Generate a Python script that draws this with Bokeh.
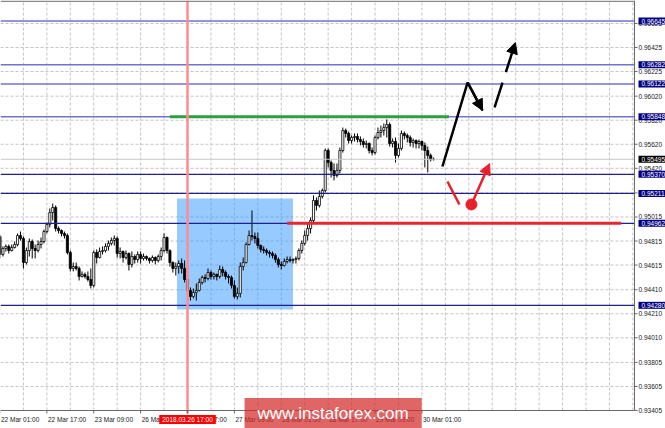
from bokeh.plotting import figure
from bokeh.models import Label, Arrow, NormalHead, Range1d, ColumnDataSource
from bokeh.core.properties import value
from bokeh.embed import file_html
from bokeh.resources import INLINE

# ---------------- data (H1 quotes) ----------------
bar = list(range(149))
open_ = [0.94853, 0.94703, 0.94753, 0.94770, 0.94736, 0.94761, 0.94786, 0.94861, 0.94836, 0.94636,
         0.94736, 0.94811, 0.94753, 0.94736, 0.94786, 0.94811, 0.94894, 0.94953, 0.95052, 0.95094,
         0.94919, 0.94903, 0.94878, 0.94861, 0.94720, 0.94587, 0.94603, 0.94587, 0.94520, 0.94537,
         0.94520, 0.94495, 0.94445, 0.94720, 0.94678, 0.94728, 0.94736, 0.94770, 0.94795, 0.94819,
         0.94836, 0.94711, 0.94728, 0.94678, 0.94711, 0.94620, 0.94686, 0.94661, 0.94703, 0.94670,
         0.94686, 0.94670, 0.94653, 0.94678, 0.94653, 0.94686, 0.94736, 0.94844, 0.94736, 0.94636,
         0.94587, 0.94603, 0.94628, 0.94587, 0.94495, 0.94404, 0.94354, 0.94387, 0.94404, 0.94470,
         0.94512, 0.94503, 0.94553, 0.94520, 0.94537, 0.94520, 0.94578, 0.94553, 0.94520, 0.94512,
         0.94445, 0.94354, 0.94379, 0.94603, 0.94636, 0.94786, 0.94861, 0.94853, 0.94836, 0.94778,
         0.94745, 0.94736, 0.94720, 0.94711, 0.94695, 0.94661, 0.94620, 0.94611, 0.94645, 0.94661,
         0.94653, 0.94661, 0.94670, 0.94736, 0.94795, 0.94861, 0.94919, 0.94986, 0.95152, 0.95111,
         0.95185, 0.95235, 0.95568, 0.95468, 0.95402, 0.95360, 0.95402, 0.95568, 0.95734, 0.95710,
         0.95651, 0.95676, 0.95685, 0.95660, 0.95643, 0.95618, 0.95626, 0.95568, 0.95551, 0.95676,
         0.95718, 0.95734, 0.95759, 0.95784, 0.95626, 0.95643, 0.95527, 0.95585, 0.95710, 0.95693,
         0.95676, 0.95635, 0.95651, 0.95626, 0.95643, 0.95610, 0.95568, 0.95527, 0.95493]
close = [0.94703, 0.94753, 0.94770, 0.94736, 0.94761, 0.94786, 0.94861, 0.94836, 0.94636, 0.94736,
         0.94811, 0.94753, 0.94736, 0.94786, 0.94811, 0.94894, 0.94953, 0.95052, 0.95094, 0.94919,
         0.94903, 0.94878, 0.94861, 0.94720, 0.94587, 0.94603, 0.94587, 0.94520, 0.94537, 0.94520,
         0.94495, 0.94445, 0.94720, 0.94678, 0.94728, 0.94736, 0.94770, 0.94795, 0.94819, 0.94836,
         0.94711, 0.94728, 0.94678, 0.94711, 0.94620, 0.94686, 0.94661, 0.94703, 0.94670, 0.94686,
         0.94670, 0.94653, 0.94678, 0.94653, 0.94686, 0.94736, 0.94844, 0.94736, 0.94636, 0.94587,
         0.94603, 0.94628, 0.94587, 0.94495, 0.94404, 0.94354, 0.94387, 0.94404, 0.94470, 0.94512,
         0.94503, 0.94553, 0.94520, 0.94537, 0.94520, 0.94578, 0.94553, 0.94520, 0.94512, 0.94445,
         0.94354, 0.94379, 0.94603, 0.94636, 0.94786, 0.94861, 0.94853, 0.94836, 0.94778, 0.94745,
         0.94736, 0.94720, 0.94711, 0.94695, 0.94661, 0.94620, 0.94611, 0.94645, 0.94661, 0.94653,
         0.94661, 0.94670, 0.94736, 0.94795, 0.94861, 0.94919, 0.94986, 0.95152, 0.95111, 0.95185,
         0.95235, 0.95568, 0.95468, 0.95402, 0.95360, 0.95402, 0.95568, 0.95734, 0.95710, 0.95651,
         0.95676, 0.95685, 0.95660, 0.95643, 0.95618, 0.95626, 0.95568, 0.95551, 0.95676, 0.95718,
         0.95734, 0.95759, 0.95784, 0.95626, 0.95643, 0.95527, 0.95585, 0.95710, 0.95693, 0.95676,
         0.95635, 0.95651, 0.95626, 0.95643, 0.95610, 0.95568, 0.95527, 0.95493, 0.95495]
high = [0.94869, 0.94770, 0.94786, 0.94786, 0.94786, 0.94811, 0.94878, 0.94894, 0.94853, 0.94761,
        0.94836, 0.94828, 0.94786, 0.94819, 0.94844, 0.94911, 0.94969, 0.95086, 0.95127, 0.95111,
        0.94936, 0.94911, 0.94894, 0.94878, 0.94736, 0.94636, 0.94636, 0.94603, 0.94562, 0.94553,
        0.94562, 0.94587, 0.94736, 0.94745, 0.94761, 0.94770, 0.94795, 0.94819, 0.94844, 0.94861,
        0.94853, 0.94761, 0.94736, 0.94736, 0.94720, 0.94728, 0.94703, 0.94728, 0.94728, 0.94711,
        0.94695, 0.94678, 0.94695, 0.94686, 0.94703, 0.94761, 0.94878, 0.94853, 0.94745, 0.94645,
        0.94636, 0.94653, 0.94670, 0.94653, 0.94553, 0.94428, 0.94420, 0.94462, 0.94503, 0.94528,
        0.94537, 0.94587, 0.94570, 0.94553, 0.94545, 0.94611, 0.94603, 0.94570, 0.94537, 0.94528,
        0.94487, 0.94428, 0.94636, 0.94678, 0.94803, 0.94903, 0.95069, 0.94886, 0.94886, 0.94786,
        0.94770, 0.94753, 0.94736, 0.94728, 0.94711, 0.94678, 0.94645, 0.94670, 0.94686, 0.94686,
        0.94670, 0.94686, 0.94753, 0.94819, 0.94903, 0.94961, 0.95011, 0.95194, 0.95177, 0.95235,
        0.95252, 0.95585, 0.95585, 0.95485, 0.95460, 0.95460, 0.95593, 0.95759, 0.95751, 0.95726,
        0.95693, 0.95710, 0.95710, 0.95685, 0.95668, 0.95651, 0.95635, 0.95593, 0.95693, 0.95759,
        0.95776, 0.95793, 0.95826, 0.95801, 0.95668, 0.95676, 0.95626, 0.95734, 0.95726, 0.95710,
        0.95693, 0.95668, 0.95660, 0.95660, 0.95651, 0.95635, 0.95601, 0.95543, 0.95510]
low = [0.94670, 0.94686, 0.94728, 0.94711, 0.94728, 0.94753, 0.94770, 0.94819, 0.94587, 0.94620,
       0.94686, 0.94670, 0.94670, 0.94720, 0.94753, 0.94795, 0.94878, 0.94928, 0.94986, 0.94894,
       0.94878, 0.94853, 0.94836, 0.94703, 0.94562, 0.94562, 0.94570, 0.94487, 0.94512, 0.94503,
       0.94478, 0.94420, 0.94428, 0.94628, 0.94670, 0.94703, 0.94720, 0.94736, 0.94778, 0.94778,
       0.94678, 0.94670, 0.94636, 0.94661, 0.94570, 0.94595, 0.94628, 0.94636, 0.94628, 0.94653,
       0.94653, 0.94628, 0.94636, 0.94620, 0.94636, 0.94653, 0.94720, 0.94711, 0.94603, 0.94553,
       0.94528, 0.94545, 0.94545, 0.94470, 0.94395, 0.94320, 0.94337, 0.94320, 0.94395, 0.94453,
       0.94470, 0.94487, 0.94495, 0.94495, 0.94487, 0.94503, 0.94520, 0.94495, 0.94462, 0.94420,
       0.94337, 0.94329, 0.94345, 0.94570, 0.94628, 0.94778, 0.94819, 0.94795, 0.94753, 0.94720,
       0.94711, 0.94695, 0.94678, 0.94670, 0.94636, 0.94595, 0.94578, 0.94603, 0.94628, 0.94636,
       0.94628, 0.94628, 0.94653, 0.94711, 0.94778, 0.94819, 0.94878, 0.94969, 0.95069, 0.95094,
       0.95169, 0.95219, 0.95427, 0.95343, 0.95319, 0.95343, 0.95377, 0.95551, 0.95676, 0.95626,
       0.95626, 0.95643, 0.95635, 0.95610, 0.95593, 0.95585, 0.95543, 0.95527, 0.95535, 0.95660,
       0.95676, 0.95693, 0.95676, 0.95601, 0.95593, 0.95468, 0.95510, 0.95568, 0.95660, 0.95635,
       0.95601, 0.95593, 0.95585, 0.95585, 0.95568, 0.95427, 0.95385, 0.95477, 0.95485]

x_tick_bars = [0, 16, 32, 48, 64, 80, 96, 112, 128, 144]
x_tick_labels = ["22 Mar 01:00", "22 Mar 17:00", "23 Mar 09:00", "26 Mar 01:00", "26 Mar 17:00",
                 "27 Mar 09:00", "28 Mar 01:00", "28 Mar 17:00", "29 Mar 09:00", "30 Mar 01:00"]
x_grid_bars = [8, 16, 24, 32, 40, 48, 56, 64, 72, 80, 88, 96, 104, 112, 120, 128, 136, 144,
               152, 160, 168, 176, 184, 192, 200, 208, 216]
y_ticks = [0.93405, 0.93605, 0.93805, 0.94010, 0.94210, 0.94410, 0.94615, 0.94815, 0.95015,
           0.95215, 0.95420, 0.95620, 0.95820, 0.96020, 0.96225, 0.96425, 0.96625]
y_tick_labels = ["0.93405", "0.93605", "0.93805", "0.94010", "0.94210", "0.94410", "0.94615",
                 "0.94815", "0.95015", "0.95215", "0.95420", "0.95620", "0.95820", "0.96020",
                 "0.96225", "0.96425", "0.96625"]

upper_levels = [0.96645, 0.96282, 0.96122, 0.95848]
lower_levels = [0.95370, 0.95211, 0.94962, 0.94280]
current_price = 0.95495

green_x = [58.0, 153.2]
green_y = 0.95848
red_x = [98.0, 212.0]
red_y = 0.94962
zone_left, zone_right, zone_top, zone_bottom = 60.4, 100.0, 0.95169, 0.94245
marker_bar = 64
marker_text = "2018.03.26 17:00"

black_path_x = [151.0, 159.6, 164.7]
black_path_y = [0.95435, 0.96134, 0.95901]
black_dash_x = [168.8, 175.9]
black_dash_y = [0.95926, 0.96467]
red_path_x = [152.7, 156.8]
red_path_y = [0.95310, 0.95119]
red_dot_x, red_dot_y = 160.9, 0.95119
red_arrow_end_x, red_arrow_end_y = 167.1, 0.95460

# ---------------- scale set-up (pixels of the 665x428 canvas) ----------------
FONT = "Liberation Sans"
PX_BAR = 2.93            # pixels per hourly bar
PX_PRICE = 12020.0       # pixels per price unit
W, H = 665, 428
CHART_W, CHART_H = 634, 410
X0 = 0.5 / PX_BAR
X1 = X0 + W / PX_BAR
X_EDGE = X0 + CHART_W / PX_BAR
P_TOP = 0.96816
P_BOTTOM = P_TOP - H / PX_PRICE
P_EDGE = P_TOP - CHART_H / PX_PRICE

p = figure(width=W, height=H, min_border=0, x_axis_location=None, y_axis_location=None,
           x_range=Range1d(X0, X1), y_range=Range1d(P_BOTTOM, P_TOP),
           output_backend="svg", toolbar_location=None)
p.outline_line_color = None
p.xgrid.visible = False
p.ygrid.visible = False
p.background_fill_color = "white"
p.border_fill_color = "white"

# grid
p.segment(x0=x_grid_bars, x1=x_grid_bars, y0=[P_EDGE] * len(x_grid_bars),
          y1=[P_TOP] * len(x_grid_bars), line_color="#c4c4c4", line_dash="3 2", line_width=1)
p.segment(x0=[X0] * len(y_ticks), x1=[X_EDGE] * len(y_ticks), y0=y_ticks, y1=y_ticks,
          line_color="#c4c4c4", line_dash="3 2", line_width=1)

# zone rectangle
p.quad(left=[zone_left], right=[zone_right], top=[zone_top], bottom=[zone_bottom],
       fill_color="#2f95ff", fill_alpha=0.5, line_color=None)

# candles
up = dict(x=[], top=[], bottom=[])
dn = dict(x=[], top=[], bottom=[])
for b, o, c in zip(bar, open_, close):
    d = up if c >= o else dn
    d["x"].append(b)
    d["top"].append(max(o, c))
    d["bottom"].append(min(o, c))
p.segment(x0=bar, y0=high, x1=bar, y1=low, line_color="black", line_width=1)
p.vbar(x="x", top="top", bottom="bottom", width=0.72, source=ColumnDataSource(up),
       fill_color="white", line_color="black", line_width=0.8)
p.vbar(x="x", top="top", bottom="bottom", width=0.72, source=ColumnDataSource(dn),
       fill_color="black", line_color="black", line_width=0.8)

# horizontal levels
p.segment(x0=[X0], x1=[X_EDGE], y0=[current_price], y1=[current_price],
          line_color="#c8c8c8", line_width=1)
p.segment(x0=[X0] * 4, x1=[X_EDGE] * 4, y0=upper_levels, y1=upper_levels,
          line_color="#7272d2", line_width=1.5)
p.segment(x0=[X0] * 4, x1=[X_EDGE] * 4, y0=lower_levels, y1=lower_levels,
          line_color="#1f1f8f", line_width=1.2)
p.segment(x0=[green_x[0]], y0=[green_y], x1=[green_x[1]], y1=[green_y],
          line_color="#2e9e40", line_width=3)
p.segment(x0=[red_x[0]], y0=[red_y], x1=[red_x[1]], y1=[red_y],
          line_color="#e8262e", line_width=3)

# time marker line
p.segment(x0=[marker_bar], x1=[marker_bar], y0=[P_EDGE - 3 / PX_PRICE], y1=[P_TOP],
          line_color="#ff8c8c", line_width=2.5)

# frame lines (axes)
p.segment(x0=[X_EDGE], x1=[X_EDGE], y0=[P_EDGE], y1=[P_TOP], line_color="#6a6a6a", line_width=1)
p.segment(x0=[X0], x1=[X_EDGE], y0=[P_EDGE], y1=[P_EDGE], line_color="#6a6a6a", line_width=1)
p.segment(x0=[X0], x1=[X_EDGE], y0=[P_TOP - 0.8 / PX_PRICE], y1=[P_TOP - 0.8 / PX_PRICE],
          line_color="#8a8a8a", line_width=1.6)

# y ticks + labels (right side)
p.segment(x0=[X_EDGE] * len(y_ticks), x1=[X_EDGE + 3 / PX_BAR] * len(y_ticks),
          y0=y_ticks, y1=y_ticks, line_color="#6a6a6a", line_width=1)
p.text(x=[X_EDGE] * len(y_ticks), y=y_ticks, text=y_tick_labels, x_offset=4,
       text_font=value(FONT), text_font_size=value("6.5px"), text_color="#202020",
       text_align="left", text_baseline="middle")

# x ticks + labels (bottom)
p.segment(x0=x_tick_bars, x1=x_tick_bars, y0=[P_EDGE] * len(x_tick_bars),
          y1=[P_EDGE - 3 / PX_PRICE] * len(x_tick_bars), line_color="#6a6a6a", line_width=1)
p.text(x=x_tick_bars, y=[P_EDGE - 9 / PX_PRICE] * len(x_tick_bars), text=x_tick_labels,
       x_offset=1, text_font=value(FONT), text_font_size=value("6.5px"), text_color="#202020",
       text_align="left", text_baseline="middle")

# arrows
p.line(black_path_x, black_path_y, line_color="black", line_width=2.5)
p.add_layout(Arrow(end=NormalHead(size=11, fill_color="black", line_color="black"),
                   x_start=black_path_x[-2], y_start=black_path_y[-2],
                   x_end=black_path_x[-1], y_end=black_path_y[-1],
                   line_color="black", line_width=2.5))
p.add_layout(Arrow(end=NormalHead(size=11, fill_color="black", line_color="black"),
                   x_start=black_dash_x[0], y_start=black_dash_y[0],
                   x_end=black_dash_x[1], y_end=black_dash_y[1],
                   line_color="black", line_width=2.5, line_dash="26 11"))
p.line(red_path_x, red_path_y, line_color="#e8202a", line_width=2.5)
p.scatter([red_dot_x], [red_dot_y], size=11, color="#e8202a")
p.add_layout(Arrow(end=NormalHead(size=11, fill_color="#e8202a", line_color="#e8202a"),
                   x_start=red_dot_x, y_start=red_dot_y,
                   x_end=red_arrow_end_x, y_end=red_arrow_end_y,
                   line_color="#e8202a", line_width=2.5))

# price tags on the right
def tag(level, color):
    p.add_layout(Label(x=X_EDGE, y=level, text=f"{level:.5f}", x_offset=4,
                       text_align="left", text_baseline="middle",
                       text_font=FONT, text_font_size="6.5px", text_color="white",
                       background_fill_color=color,
                       padding=dict(left=3, right=3, top=1, bottom=1)))

for lv in upper_levels + lower_levels:
    tag(lv, "#000080")
tag(current_price, "#000000")

# time marker tag
p.add_layout(Label(x=marker_bar, y=P_EDGE - 9 / PX_PRICE, text=marker_text,
                   text_align="center", text_baseline="middle",
                   text_font=FONT, text_font_size="6.5px", text_color="white",
                   background_fill_color="#ff0000",
                   padding=dict(left=3, right=3, top=1, bottom=1)))

# watermark
p.add_layout(Label(x=113.7, y=P_TOP - 413 / PX_PRICE, text="www.instaforex.com",
                   text_align="center", text_baseline="middle",
                   text_font=FONT, text_font_size="17px", text_color="white",
                   background_fill_color="#d42a2a", background_fill_alpha=0.72,
                   padding=dict(left=13, right=13, top=6, bottom=6)))

open("out.html", "w").write(file_html(p, INLINE))
